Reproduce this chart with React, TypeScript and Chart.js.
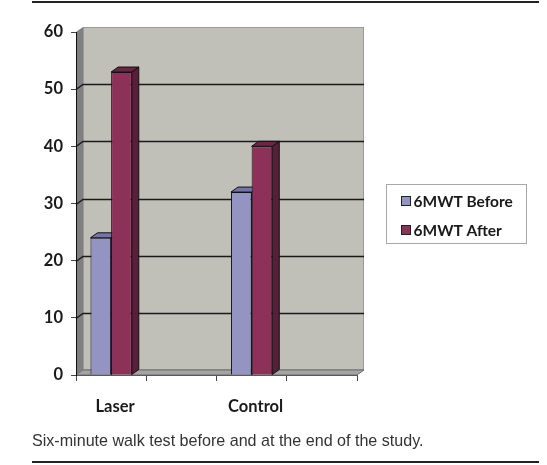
import React, { useEffect, useRef } from "react";
import { Chart, registerables } from "chart.js";

Chart.register(...registerables);

const categories = ["Laser", "", "Control", ""];
const seriesNames = ["6MWT Before", "6MWT After"];
const beforeValues: (number | null)[] = [24, null, 32, null];
const afterValues: (number | null)[] = [53, null, 40, null];
const yTicks = [0, 10, 20, 30, 40, 50, 60];
const caption = "Six-minute walk test before and at the end of the study.";

const DX = 7;
const DY = -5;
const FRONT = ["#9494c2", "#8c3259"];
const TOP = ["#7474ac", "#6d2545"];
const SIDE = ["#5e5e98", "#55203a"];
const FONT = "Lato";

const threeD = {
  id: "threeD",
  beforeDraw(chart: any) {
    const ctx = chart.ctx;
    const { left, right, top, bottom } = chart.chartArea;
    const y = chart.scales.y;
    ctx.save();
    ctx.fillStyle = "#c0c0b9";
    ctx.fillRect(left + DX, top + DY, right - left, bottom - top);
    ctx.strokeStyle = "#9a9a9a";
    ctx.lineWidth = 1;
    ctx.strokeRect(left + DX + 0.5, top + DY + 0.5, right - left - 1, bottom - top - 1);
    ctx.beginPath();
    ctx.moveTo(left, top);
    ctx.lineTo(left + DX, top + DY);
    ctx.lineTo(left + DX, bottom + DY);
    ctx.lineTo(left, bottom);
    ctx.closePath();
    ctx.fillStyle = "#808080";
    ctx.fill();
    ctx.beginPath();
    ctx.moveTo(left, bottom);
    ctx.lineTo(left + DX, bottom + DY);
    ctx.lineTo(right + DX, bottom + DY);
    ctx.lineTo(right, bottom);
    ctx.closePath();
    ctx.fillStyle = "#a4a4a4";
    ctx.fill();
    ctx.strokeStyle = "#6e6e6e";
    ctx.stroke();
    ctx.strokeStyle = "#1a1a1a";
    ctx.lineWidth = 1.5;
    y.ticks.forEach((t: any) => {
      const v = t.value;
      if (v === yTicks[0] || v === yTicks[yTicks.length - 1]) return;
      const py = Math.round(y.getPixelForValue(v)) + 0.5;
      ctx.beginPath();
      ctx.moveTo(left, py);
      ctx.lineTo(left + DX, py + DY);
      ctx.lineTo(right + DX, py + DY);
      ctx.stroke();
    });
    ctx.restore();
  },
  beforeDatasetsDraw(chart: any) {
    const ctx = chart.ctx;
    ctx.save();
    ctx.lineWidth = 1;
    ctx.strokeStyle = "#111";
    chart.data.datasets.forEach((ds: any, i: number) => {
      const meta = chart.getDatasetMeta(i);
      meta.data.forEach((el: any, j: number) => {
        if (ds.data[j] == null) return;
        const p = el.getProps(["x", "y", "base", "width"], true);
        const l = p.x - p.width / 2;
        const r = p.x + p.width / 2;
        const t = p.y;
        const b = p.base;
        ctx.beginPath();
        ctx.moveTo(r, t);
        ctx.lineTo(r + DX, t + DY);
        ctx.lineTo(r + DX, b + DY);
        ctx.lineTo(r, b);
        ctx.closePath();
        ctx.fillStyle = SIDE[i];
        ctx.fill();
        ctx.stroke();
        ctx.beginPath();
        ctx.moveTo(l, t);
        ctx.lineTo(l + DX, t + DY);
        ctx.lineTo(r + DX, t + DY);
        ctx.lineTo(r, t);
        ctx.closePath();
        ctx.fillStyle = TOP[i];
        ctx.fill();
        ctx.stroke();
      });
    });
    ctx.restore();
  },
  afterDraw(chart: any) {
    const ctx = chart.ctx;
    ctx.save();
    const bx = 386.5, by = 184.5, bw = 140, bh = 59;
    ctx.fillStyle = "#ffffff";
    ctx.fillRect(bx, by, bw, bh);
    ctx.strokeStyle = "#a8a8a8";
    ctx.lineWidth = 1;
    ctx.strokeRect(bx, by, bw, bh);
    ctx.font = `bold 15.5px ${FONT}`;
    ctx.textBaseline = "middle";
    ctx.textAlign = "left";
    chart.data.datasets.forEach((ds: any, i: number) => {
      const cy = 201 + i * 29;
      ctx.fillStyle = ds.backgroundColor;
      ctx.fillRect(401, cy - 5, 10, 10);
      ctx.strokeStyle = "#222";
      ctx.strokeRect(401.5, cy - 4.5, 9, 9);
      ctx.fillStyle = "#1a1a1a";
      ctx.fillText(ds.label, 413.5, cy + 1);
    });
    ctx.restore();
  },
};

export default function App() {
  const ref = useRef<HTMLCanvasElement | null>(null);
  useEffect(() => {
    if (!ref.current) return;
    const chart = new Chart(ref.current, {
      type: "bar",
      data: {
        labels: categories,
        datasets: [
          {
            label: seriesNames[0],
            data: beforeValues,
            backgroundColor: FRONT[0],
            borderColor: "#111",
            borderWidth: 1,
          },
          {
            label: seriesNames[1],
            data: afterValues,
            backgroundColor: FRONT[1],
            borderColor: "#111",
            borderWidth: 1,
          },
        ],
      },
      options: {
        responsive: false,
        animation: false,
        devicePixelRatio: 1,
        layout: { padding: { left: 0, top: 32, right: 190, bottom: 0 } },
        datasets: { bar: { categoryPercentage: 0.588, barPercentage: 1 } },
        plugins: {
          legend: { display: false },
          tooltip: { enabled: false },
        },
        scales: {
          x: {
            afterFit: (s: any) => {
              s.height = 90;
            },
            grid: {
              display: true,
              drawOnChartArea: false,
              drawTicks: true,
              tickLength: 6,
              color: "#444",
              offset: true,
            },
            border: { display: true, color: "#5a5a5a", width: 1 },
            ticks: {
              color: "#1a1a1a",
              font: { family: FONT, size: 16.5, weight: "bold" },
              padding: 16,
              labelOffset: 4,
              maxRotation: 0,
            },
          },
          y: {
            min: yTicks[0],
            max: yTicks[yTicks.length - 1],
            afterFit: (s: any) => {
              s.width = 76;
            },
            afterBuildTicks: (s: any) => {
              s.ticks = yTicks.map((v) => ({ value: v }));
            },
            grid: {
              display: true,
              drawOnChartArea: false,
              drawTicks: true,
              tickLength: 5,
              color: "#444",
            },
            border: { display: true, color: "#111", width: 1 },
            ticks: {
              color: "#1a1a1a",
              font: { family: FONT, size: 16.5, weight: "bold" },
              padding: 8,
            },
          },
        },
      },
      plugins: [threeD],
    });
    return () => chart.destroy();
  }, []);

  return (
    <div style={{ position: "absolute", left: 0, top: 0, width: 547, height: 465, background: "#fff" }}>
      <div style={{ position: "absolute", left: 32, top: 1, width: 507, height: 2, background: "#222" }} />
      <canvas ref={ref} width={547} height={465} style={{ position: "absolute", left: 0, top: 0 }} />
      <div
        style={{
          position: "absolute",
          left: 32,
          top: 431,
          fontFamily: "'Liberation Sans', Arial, sans-serif",
          fontSize: 16.1,
          color: "#333",
          whiteSpace: "nowrap",
        }}
      >
        {caption}
      </div>
      <div style={{ position: "absolute", left: 32, top: 461, width: 507, height: 2, background: "#222" }} />
    </div>
  );
}
